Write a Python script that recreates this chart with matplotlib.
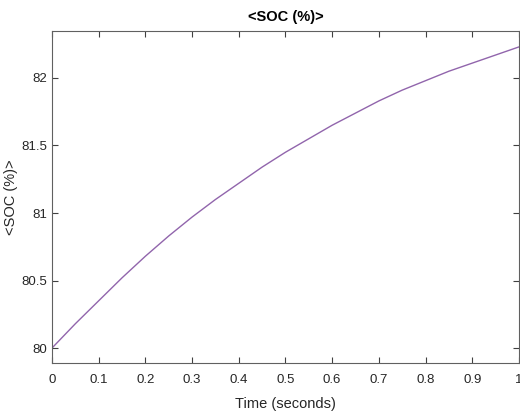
import matplotlib.pyplot as plt

# valores
tempo = [0.0, 0.05, 0.1, 0.15, 0.2, 0.25, 0.3, 0.35, 0.4, 0.45, 0.5,
         0.55, 0.6, 0.65, 0.7, 0.75, 0.8, 0.85, 0.9, 0.95, 1.0]
soc = [80.00, 80.18, 80.35, 80.52, 80.68, 80.83, 80.97, 81.10, 81.22, 81.34, 81.45,
       81.55, 81.65, 81.74, 81.83, 81.91, 81.98, 82.05, 82.11, 82.17, 82.23]
xticks = [0, 0.1, 0.2, 0.3, 0.4, 0.5, 0.6, 0.7, 0.8, 0.9, 1]
xticklabels = ['0', '0.1', '0.2', '0.3', '0.4', '0.5', '0.6', '0.7', '0.8', '0.9', '1']
yticks = [80, 80.5, 81, 81.5, 82]
yticklabels = ['80', '80.5', '81', '81.5', '82']

plt.rcParams['font.family'] = ['Liberation Sans', 'DejaVu Sans']

fig = plt.figure(figsize=(5.2, 4.13), dpi=100)
ax = fig.add_axes([0.1, 0.121, 0.898, 0.804])
ax.plot(tempo, soc, color='#9165ac', linewidth=1.0)

ax.set_xlim(0, 1)
ax.set_ylim(79.889, 82.348)
ax.set_xticks(xticks)
ax.set_xticklabels(xticklabels)
ax.set_yticks(yticks)
ax.set_yticklabels(yticklabels)
ax.tick_params(direction='in', top=True, right=True, length=4, width=0.8,
               colors='#404040', labelsize=9.5, labelcolor='#262626')
ax.tick_params(axis='x', pad=8)
for spine in ax.spines.values():
    spine.set_color('#606060')
    spine.set_linewidth(0.8)

ax.set_title('<SOC (%)>', fontsize=10.5, fontweight='bold', pad=7)
ax.set_xlabel('Time (seconds)', fontsize=10.5, color='#262626')
ax.set_ylabel('<SOC (%)>', fontsize=10.5, color='#262626')
ax.xaxis.set_label_coords(0.5, -0.102)
ax.yaxis.set_label_coords(-0.073, 0.5)

fig.savefig('out.png', dpi=100)
